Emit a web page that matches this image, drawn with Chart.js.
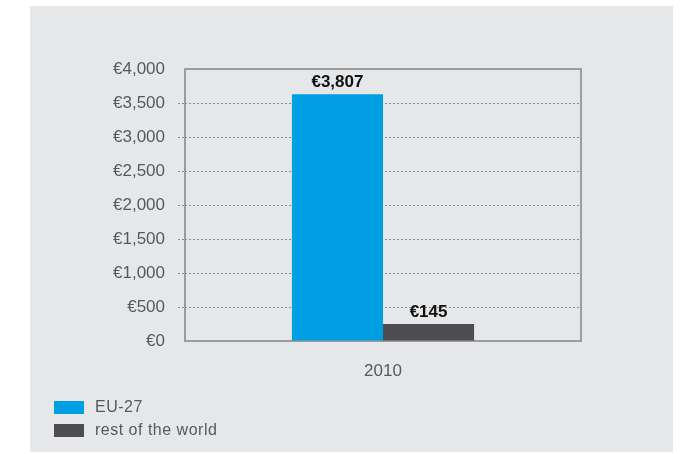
<!DOCTYPE html>
<html>
<head>
<meta charset="utf-8">
<script src="https://cdn.jsdelivr.net/npm/chart.js@4"></script>
<style>
  body { margin: 0; background: #fff; font-family: "Liberation Sans", Arial, sans-serif; }
  #panel { position: absolute; left: 30px; top: 6px; width: 643px; height: 446px; background: #e6e7e8; }
  #chart-1 { position: absolute; left: 0; top: 0; }
  #legend { position: absolute; left: 24px; top: 394px; font-size: 16px; letter-spacing: 0.5px; color: #58595b; }
  .item { height: 23px; line-height: 14px; display: flex; align-items: flex-start; }
  .box { width: 30px; height: 13px; margin-right: 11px; margin-top: 1px; }
</style>
</head>
<body>
<div id="panel">
  <canvas id="chart-1" width="643" height="446"></canvas>
  <div id="legend"></div>
</div>
<script>
const categories = ["2010"];
const seriesNames = ["EU-27", "rest of the world"];
const seriesColors = ["#009fe3", "#4d4d4f"];
// bar heights as drawn in the picture; the printed labels differ from them
const eu27 = [3630];
const restOfWorld = [250];
const valueLabels = [["€3,807"], ["€145"]];
const yTicks = [0, 500, 1000, 1500, 2000, 2500, 3000, 3500, 4000];

const legend = document.getElementById("legend");
seriesNames.forEach(function (name, i) {
  const row = document.createElement("div");
  row.className = "item";
  row.innerHTML = '<span class="box" style="background:' + seriesColors[i] + '"></span><span>' + name + "</span>";
  legend.appendChild(row);
});

const framePlugin = {
  id: "frame",
  beforeDatasetsDraw(chart) {
    const a = chart.chartArea;
    const c = chart.ctx;
    c.save();
    c.strokeStyle = "#9d9d9f";
    c.lineWidth = 2;
    c.strokeRect(a.left, a.top, a.right - a.left, a.bottom - a.top);
    c.restore();
  },
};

const labelPlugin = {
  id: "valueLabels",
  afterDatasetsDraw(chart) {
    const c = chart.ctx;
    c.save();
    c.font = "bold 17px 'Liberation Sans', Arial, sans-serif";
    c.fillStyle = "#111";
    c.textAlign = "center";
    c.textBaseline = "bottom";
    chart.data.datasets.forEach(function (ds, i) {
      chart.getDatasetMeta(i).data.forEach(function (bar, j) {
        c.fillText(valueLabels[i][j], bar.x, bar.y - 3);
      });
    });
    c.restore();
  },
};

new Chart(document.getElementById("chart-1"), {
  type: "bar",
  data: {
    labels: categories,
    datasets: [
      { label: seriesNames[0], data: eu27, backgroundColor: seriesColors[0] },
      { label: seriesNames[1], data: restOfWorld, backgroundColor: seriesColors[1] },
    ],
  },
  options: {
    responsive: false,
    animation: false,
    layout: { padding: { left: 55, top: 63, right: 92, bottom: 61 } },
    datasets: { bar: { categoryPercentage: 0.46, barPercentage: 1 } },
    plugins: {
      legend: { display: false },
      tooltip: { enabled: false },
    },
    scales: {
      x: {
        grid: { display: false, drawTicks: false },
        border: { display: false },
        ticks: { color: "#58595b", font: { size: 17, family: "'Liberation Sans', Arial, sans-serif" }, padding: 20 },
        afterFit: function (scale) { scale.height = 50; },
      },
      y: {
        min: 0,
        max: 4000,
        afterBuildTicks: function (scale) { scale.ticks = yTicks.map(function (v) { return { value: v }; }); },
        grid: {
          color: function (ctx) {
            const v = ctx.tick && ctx.tick.value;
            return v === 0 || v === 4000 ? "rgba(0,0,0,0)" : "#8a8a8c";
          },
          lineWidth: 1,
          tickBorderDash: [2, 2],
          tickLength: 7,
        },
        border: { display: false, dash: [2, 2] },
        ticks: {
          color: "#58595b",
          font: { size: 17, family: "'Liberation Sans', Arial, sans-serif" },
          padding: 13,
          callback: function (v) { return "€" + v.toLocaleString("en-US"); },
        },
        afterFit: function (scale) { scale.width = 100; },
      },
    },
  },
  plugins: [framePlugin, labelPlugin],
});
</script>
</body>
</html>
